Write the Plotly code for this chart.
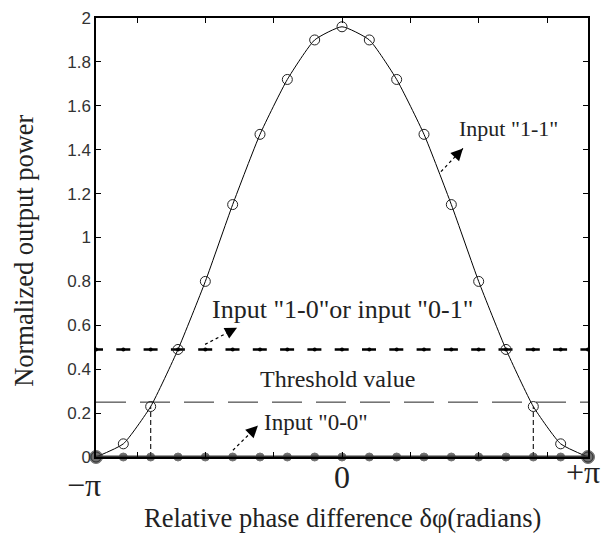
import plotly.graph_objects as go

# ---------------- data ----------------
phase_deg = [-180, -160, -140, -120, -100, -80, -60, -40, -20, 0,
             20, 40, 60, 80, 100, 120, 140, 160, 180]
power_11 = [0.0, 0.06, 0.23, 0.49, 0.80, 1.15, 1.47, 1.72, 1.90, 1.96,
            1.90, 1.72, 1.47, 1.15, 0.80, 0.49, 0.23, 0.06, 0.0]
power_10 = [0.49] * 19
power_00 = [0.0] * 19
threshold_x = [-180, 180]
threshold_y = [0.25, 0.25]
cross_x = [-140, 140]
cross_y = [0.23, 0.23]
ytick_vals = [0, 0.2, 0.4, 0.6, 0.8, 1, 1.2, 1.4, 1.6, 1.8, 2]
ytick_text = ["0", "0.2", "0.4", "0.6", "0.8", "1", "1.2", "1.4", "1.6", "1.8", "2"]
xtick_vals = [-150, -100, -50, 0, 50, 100, 150]
xlabel_pos = [-180, 0, 180]
xlabel_text = ["\u2212\u03c0", "0", "+\u03c0"]

SERIF = "Liberation Serif, Times New Roman, serif"
SANS = "Liberation Sans, Arial, sans-serif"

fig = go.Figure()

# threshold line
fig.add_trace(go.Scatter(x=threshold_x, y=threshold_y, mode="lines",
                         line=dict(color="#222222", width=1, dash="30px,14px"),
                         hoverinfo="skip", showlegend=False))
# vertical dashed drop lines
for cx, cy in zip(cross_x, cross_y):
    fig.add_trace(go.Scatter(x=[cx, cx], y=[0, cy], mode="lines",
                             line=dict(color="#222222", width=1.2, dash="5px,3px"),
                             hoverinfo="skip", showlegend=False))
# input 1-0 / 0-1
fig.add_trace(go.Scatter(x=phase_deg, y=power_10, mode="lines+markers",
                         line=dict(color="black", width=2.5, dash="7px,13.3px,7px,0px"),
                         marker=dict(symbol="circle", size=4, color="black"),
                         hoverinfo="skip", showlegend=False, cliponaxis=False))
# input 1-1
fig.add_trace(go.Scatter(x=phase_deg, y=power_11, mode="lines+markers",
                         line=dict(color="black", width=1, shape="spline", smoothing=0.5),
                         marker=dict(symbol="circle-open", size=10, color="#222222",
                                     line=dict(width=1)),
                         hoverinfo="skip", showlegend=False, cliponaxis=False))
# input 0-0
sizes = [8] * len(phase_deg)
sizes[0] = 13
sizes[-1] = 13
fig.add_trace(go.Scatter(x=phase_deg, y=power_00, mode="lines+markers",
                         line=dict(color="#3a3a3a", width=3),
                         marker=dict(symbol="circle", size=sizes, color="#333333"),
                         hoverinfo="skip", showlegend=False, cliponaxis=False))

# ---------------- annotations ----------------
texts = [  # text, x, y, font size
    ("Input \"1-1\"", 122, 1.496, 22),
    ("Input \"1-0\"or input \"0-1\"", 0.7, 0.670, 26),
    ("Threshold value", -3, 0.357, 24),
    ("Input \"0-0\"", -19, 0.156, 23),
]
for t, x, y, fs in texts:
    fig.add_annotation(x=x, y=y, text=t, showarrow=False,
                       font=dict(family=SERIF, size=fs, color="#222222"),
                       xanchor="center", yanchor="middle")

arrows = [  # (tail_x, tail_y, head_x, head_y)
    (72.4, 1.30, 88.5, 1.406),
    (-100.2, 0.513, -76.8, 0.589),
    (-79.8, 0.031, -61.5, 0.143),
]
for tx, ty, hx, hy in arrows:
    fig.add_shape(type="line", x0=tx, y0=ty, x1=hx, y1=hy,
                  line=dict(color="black", width=1.2, dash="3px,3px"))
    fig.add_annotation(x=hx, y=hy, ax=hx + (tx - hx) * 0.35, ay=hy + (ty - hy) * 0.35,
                       axref="x", ayref="y", text="", showarrow=True,
                       arrowhead=2, arrowsize=1.5, arrowwidth=1.6, arrowcolor="black")

# x tick labels (pi)
xl_y = [-0.064, -0.045, -0.034]
xl_dx = [-12, 0, -5]
for x, t, yy, dx in zip(xlabel_pos, xlabel_text, xl_y, xl_dx):
    fig.add_annotation(x=x, y=yy, yref="paper", text=t, showarrow=False,
                       font=dict(family=SERIF, size=32, color="#222222"),
                       xanchor="center", yanchor="middle", xshift=dx)

# axis titles
fig.add_annotation(x=0, y=-0.14, yref="paper", text="Relative phase difference \u03b4\u03c6(radians)",
                   showarrow=False, font=dict(family=SERIF, size=26.5, color="#222222"),
                   xanchor="center", yanchor="middle")
fig.add_annotation(x=-0.148, y=0.47, xref="paper", yref="paper", text="Normalized output power",
                   showarrow=False, textangle=-90,
                   font=dict(family=SERIF, size=26.5, color="#222222"),
                   xanchor="center", yanchor="middle")

fig.update_layout(
    width=601, height=539,
    margin=dict(l=96, r=13, t=9, b=82),
    paper_bgcolor="white", plot_bgcolor="white",
    showlegend=False,
    xaxis=dict(range=[-180, 180], tickvals=xtick_vals, showticklabels=False,
               ticks="inside", ticklen=5, tickwidth=1, tickcolor="black",
               showline=True, linecolor="black", linewidth=1.5, mirror="ticks",
               showgrid=False, zeroline=False),
    yaxis=dict(range=[0, 2], tickvals=ytick_vals, ticktext=ytick_text,
               ticks="inside", ticklen=5, tickwidth=1, tickcolor="black",
               showline=True, linecolor="black", linewidth=1.5, mirror="ticks",
               showgrid=False, zeroline=False,
               tickfont=dict(family=SANS, size=17, color="#333333")),
)

fig.write_html("out.html", config={"displayModeBar": False},
               post_script="document.body.style.margin='0';document.body.style.padding='0';")
